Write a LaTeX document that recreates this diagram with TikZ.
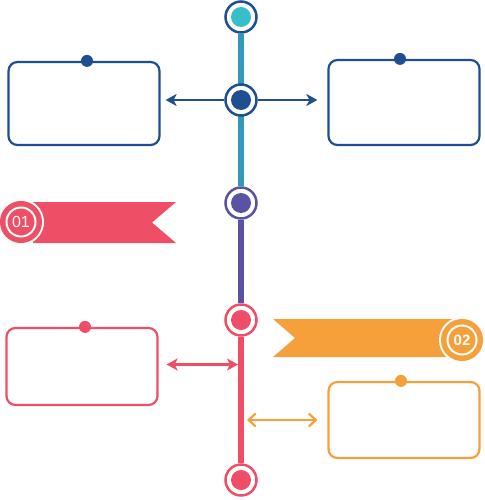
\documentclass[tikz,border=0pt]{standalone}
\usepackage{fontspec}
\setmainfont{Liberation Sans}
\usetikzlibrary{positioning, arrows.meta, backgrounds}

\definecolor{navy}{HTML}{1D4F91}
\definecolor{tealline}{HTML}{3399BB}
\definecolor{tealdot}{HTML}{36BFC8}
\definecolor{violet}{HTML}{5A52A3}
\definecolor{rose}{HTML}{EE4E66}
\definecolor{amber}{HTML}{F5A03A}

\begin{document}
\begin{tikzpicture}[x=1pt, y=-1pt,
  ring/.style 2 args={circle, draw=#1, fill=white, line width=2.5pt,
    minimum size=31pt, inner sep=0pt,
    path picture={\fill[#2] (path picture bounding box.center) circle (10pt);}},
  box/.style={draw=#1, rounded corners=9pt, line width=2.2pt,
    minimum width=151pt, inner sep=0pt},
  pin/.style={circle, fill=#1, minimum size=12pt, inner sep=0pt},
  badge/.style={circle, fill=#1, draw=white, line width=2pt,
    minimum size=29pt, inner sep=0pt, text=white,
    font=\fontsize{16}{16}\selectfont,
    preaction={draw=white, line width=17pt},
    preaction={draw=#1, line width=13pt}},
  timeline/.style={line width=6pt, #1},
  ptr/.tip={Stealth[length=11pt, width=12pt, inset=3pt]},
  brb/.tip={Straight Barb[length=7pt, width=13pt]}]

  \useasboundingbox (0,0) rectangle (484,500);

  % timeline stops
  \node[ring={navy}{tealdot}] (c1) at (241,17) {};
  \node[ring={navy}{navy}] (c2) at (241,100) {};
  \node[ring={violet}{violet}] (c3) at (241,203) {};
  \node[ring={rose}{rose}] (c4) at (241,320) {};
  \node[ring={rose}{rose}] (c5) at (241,480) {};

  \begin{pgfonlayer}{background}
    \draw[timeline=tealline] (c1) -- (c3);
    \draw[timeline=violet] (c3) -- (c4);
    \draw[timeline=rose] (c4) -- (c5);
  \end{pgfonlayer}

  % boxes
  \node[box=navy, minimum height=83pt] (tl) at (84,103.5) {};
  \node[box=navy, minimum height=85pt] (tr) at (404,102.5) {};
  \node[box=rose, minimum height=77pt] (bl) at (82,366.5) {};
  \node[box=amber, minimum height=76pt] (br) at (404,420) {};

  \node[pin=navy] (tlp) at ([xshift=3pt]tl.north) {};
  \node[pin=navy] (trp) at ([xshift=-4pt]tr.north) {};
  \node[pin=rose] (blp) at ([xshift=3pt]bl.north) {};
  \node[pin=amber] (brp) at ([xshift=-3pt]br.north) {};

  % arrows
  \draw[navy, line width=1.6pt, -ptr, shorten >=5pt]
    (c2.west) -- (c2 -| tl.east);
  \draw[navy, line width=1.6pt, -ptr, shorten >=10pt]
    (c2.east) -- (c2 -| tr.west);
  \draw[rose, line width=2.2pt, ptr-ptr, shorten <=8pt, shorten >=3pt]
    ([yshift=2pt]bl.east) -- ([yshift=2pt]bl.east -| c4);
  \draw[amber, line width=2.2pt, brb-brb, shorten <=6pt, shorten >=10pt]
    (br.west -| c4) -- (br.west);

  % ribbons
  \fill[rose] (33,202) -- (176,202) -- (152,222.5) -- (176,243) -- (33,243) -- cycle;
  \fill[amber] (273,319) -- (455,319) -- (455,357) -- (273,357) -- (295,338) -- cycle;

  \node[badge=rose] (b1) at (21,222) {01};
  \node[badge=amber, font=\fontsize{15}{15}\selectfont\bfseries] (b2) at (462,340) {02};
\end{tikzpicture}
\end{document}
